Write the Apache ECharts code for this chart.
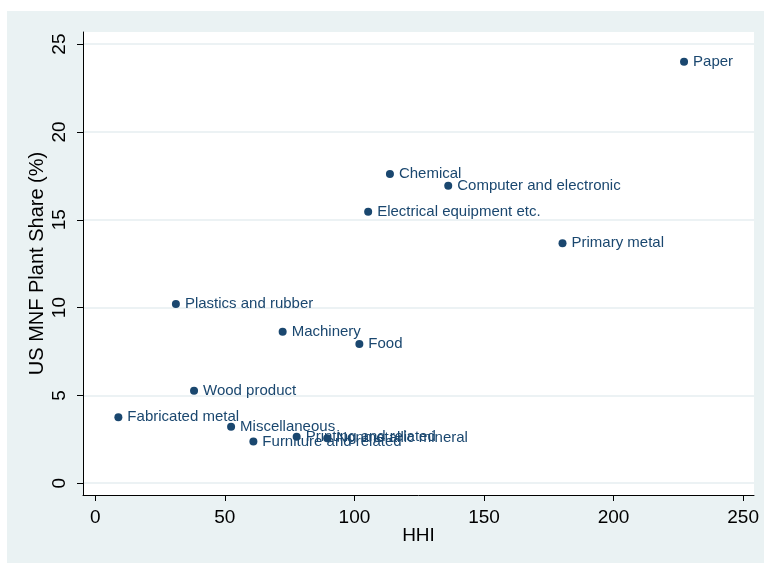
<!DOCTYPE html>
<html>
<head>
<meta charset="utf-8">
<script src="https://cdn.jsdelivr.net/npm/echarts@6/dist/echarts.min.js"></script>
<style>
html,body{margin:0;padding:0;background:#ffffff;width:764px;height:563px;overflow:hidden;}
#chart{position:absolute;left:7px;top:11px;width:757px;height:552px;}
</style>
</head>
<body>
<div id="chart"></div>
<script>
const industries = ["Paper","Chemical","Computer and electronic","Electrical equipment etc.","Primary metal","Plastics and rubber","Machinery","Food","Wood product","Fabricated metal","Miscellaneous","Printing and related","Nonmetallic mineral","Furniture and related"];
const hhi = [227.2,113.7,136.2,105.3,180.3,31.1,72.3,101.9,38.1,8.9,52.4,77.7,89.5,61.0];
const plantShare = [24.0,17.6,16.94,15.46,13.66,10.2,8.63,7.93,5.27,3.76,3.22,2.65,2.56,2.37];
const xTicks = [0,50,100,150,200,250];
const yTicks = [0,5,10,15,20,25];

const navy = '#1a476f';
const font = 'Liberation Sans, Arial, sans-serif';
const chart = echarts.init(document.getElementById('chart'), null, {renderer:'canvas'});
const points = industries.map((n,i)=>({name:n, value:[hhi[i], plantShare[i]]}));

chart.setOption({
  backgroundColor:'#eaf2f3',
  animation:false,
  grid:{left:76, right:10, top:21, bottom:68, show:true, backgroundColor:'#ffffff', borderWidth:0},
  xAxis:{
    type:'value', min:-4.75, max:254.2,
    name:'HHI', nameLocation:'middle', nameGap:31, nameMoveOverlap:false,
    nameTextStyle:{fontFamily:font, fontSize:19, color:'#000'},
    axisLine:{show:true, onZero:false, lineStyle:{color:'#000', width:1}},
    axisTick:{show:true, length:6, customValues:xTicks, lineStyle:{color:'#000'}},
    axisLabel:{customValues:xTicks, fontFamily:font, fontSize:19, color:'#000', margin:13},
    splitLine:{show:false}
  },
  yAxis:{
    type:'value', min:-0.67, max:25.69,
    name:'US MNF Plant Share (%)', nameLocation:'middle', nameGap:36, nameMoveOverlap:false,
    nameTextStyle:{fontFamily:font, fontSize:20, color:'#000'},
    axisLine:{show:true, onZero:false, lineStyle:{color:'#000', width:1}},
    axisTick:{show:true, length:6, customValues:yTicks, lineStyle:{color:'#000'}},
    axisLabel:{customValues:yTicks, fontFamily:font, fontSize:19, color:'#000', rotate:90, margin:14},
    splitLine:{show:true, lineStyle:{color:'#e6eef0', width:1.5}}
  },
  series:[{
    type:'scatter',
    data:points,
    symbol:'circle',
    symbolSize:8,
    itemStyle:{color:navy, opacity:1},
    label:{show:true, position:'right', distance:5, formatter:p=>p.name, fontFamily:font, fontSize:15, color:navy}
  }]
});
</script>
</body>
</html>
